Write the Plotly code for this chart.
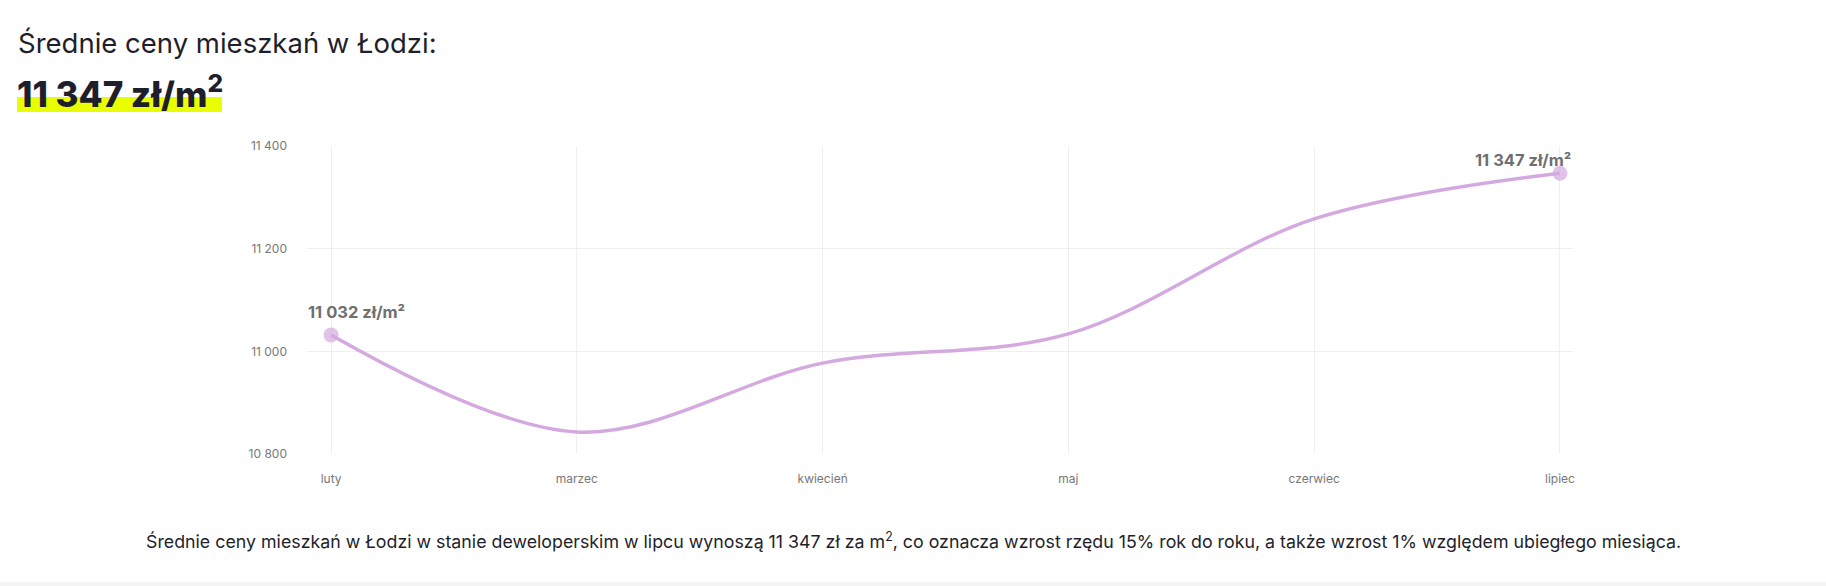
import plotly.graph_objects as go

# --- data ---
months = ["luty", "marzec", "kwiecień", "maj", "czerwiec", "lipiec"]
prices = [11032, 10843, 10977, 11034, 11258, 11347]
y_ticks = [10800, 11000, 11200, 11400]

W, H = 1826, 586
L, R, T, B = 307, 1573, 146, 454  # plot area in px

def fx(px):
    return (px - L) / (R - L)

def fy(py):
    return (B - py) / (B - T)

FONT = "Inter"
LINE_COLOR = "#d4a9e0"

fig = go.Figure()

fig.add_trace(go.Scatter(
    x=months,
    y=prices,
    mode="lines+markers",
    line=dict(color=LINE_COLOR, width=3.5, shape="spline", smoothing=1),
    marker=dict(
        color=LINE_COLOR,
        size=[15, 0, 0, 0, 0, 15],
        line=dict(width=0),
    ),
    hoverinfo="skip",
    showlegend=False,
))

# labels on first and last point
fig.add_annotation(
    x=months[0], y=prices[0],
    text=f"{prices[0]:,}".replace(",", " ") + " zł/m²",
    showarrow=False, xanchor="left", yanchor="middle",
    xshift=-25, yshift=23,
    font=dict(family=FONT, size=16.5, color="#6f6f6f", weight="bold"),
)
fig.add_annotation(
    x=months[-1], y=prices[-1],
    text=f"{prices[-1]:,}".replace(",", " ") + " zł/m²",
    showarrow=False, xanchor="right", yanchor="middle",
    xshift=13, yshift=13,
    font=dict(family=FONT, size=16.5, color="#6f6f6f", weight="bold"),
)

# header texts
fig.add_annotation(
    xref="paper", yref="paper", x=fx(16), y=fy(43),
    text="Średnie ceny mieszkań w Łodzi:",
    showarrow=False, xanchor="left", yanchor="middle",
    font=dict(family=FONT, size=27.5, color="#1f1f2b"),
)
fig.add_shape(
    type="rect", xref="paper", yref="paper",
    x0=fx(17), x1=fx(222), y0=fy(112), y1=fy(97),
    fillcolor="#e9ff00", line=dict(width=0), layer="below",
)
fig.add_annotation(
    xref="paper", yref="paper", x=fx(15), y=fy(91),
    text="11 347 zł/m<sup>2</sup>",
    showarrow=False, xanchor="left", yanchor="middle",
    font=dict(family=FONT, size=35, color="#1f1f2b", weight=800),
)

# footer text
fig.add_annotation(
    xref="paper", yref="paper", x=fx(W / 2), y=fy(540),
    text="Średnie ceny mieszkań w Łodzi w stanie deweloperskim w lipcu wynoszą 11 347 zł za m<sup>2</sup>, "
         "co oznacza wzrost rzędu 15% rok do roku, a także wzrost 1% względem ubiegłego miesiąca.",
    showarrow=False, xanchor="center", yanchor="middle",
    font=dict(family=FONT, size=17.8, color="#1f1f2b"),
)
fig.add_shape(
    type="rect", xref="paper", yref="paper",
    x0=fx(0), x1=fx(W), y0=fy(H), y1=fy(582),
    fillcolor="#f4f4f4", line=dict(width=0), layer="below",
)

fig.update_layout(
    width=W,
    height=H,
    margin=dict(l=L, r=W - R, t=T, b=H - B),
    paper_bgcolor="white",
    plot_bgcolor="white",
    separators=", ",
    font=dict(family=FONT),
    xaxis=dict(
        range=[-0.098, 5.053],
        showgrid=True,
        gridcolor="#efefef",
        gridwidth=1,
        zeroline=False,
        showline=False,
        ticks="",
        ticklabelstandoff=16,
        tickfont=dict(family=FONT, size=12, color="#777777"),
        fixedrange=True,
    ),
    yaxis=dict(
        range=[10800, 11400],
        tickvals=y_ticks,
        tickformat=",d",
        showgrid=True,
        gridcolor="#efefef",
        gridwidth=1,
        zeroline=False,
        showline=False,
        ticks="",
        ticklabelstandoff=19,
        tickfont=dict(family=FONT, size=12, color="#777777"),
        fixedrange=True,
    ),
)

# drop the default page margin so the figure sits at the window's corner
fig.write_html(
    "out.html",
    config={"displayModeBar": False},
    post_script="document.body.style.margin='0';document.body.style.overflow='hidden';",
)
